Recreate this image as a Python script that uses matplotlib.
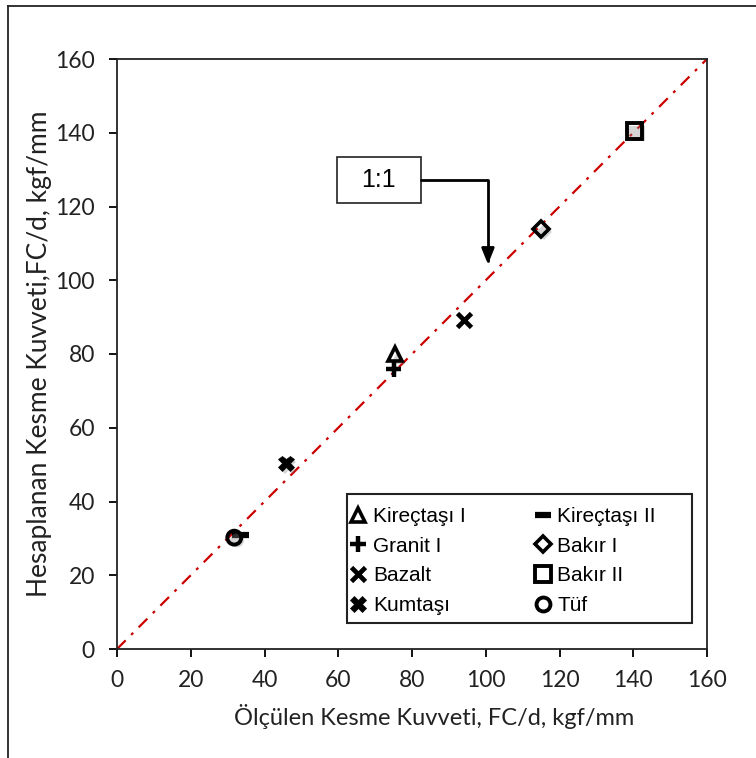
import matplotlib
matplotlib.use("Agg")
import matplotlib.pyplot as plt
import matplotlib.patheffects as pe
from matplotlib.lines import Line2D
from matplotlib.patches import Rectangle

# Measured vs calculated cutting force per unit depth (FC/d, kgf/mm)
materials = ['Kireçtaşı I', 'Granit I', 'Bazalt', 'Kumtaşı',
             'Kireçtaşı II', 'Bakır I', 'Bakır II', 'Tüf']
measured = [75.5, 75.0, 94.0, 45.8, 33.5, 115.0, 140.3, 31.8]
calculated = [80.0, 75.8, 89.2, 50.4, 30.8, 113.9, 140.5, 30.2]

ticks = [0, 20, 40, 60, 80, 100, 120, 140, 160]
x_label = 'Ölçülen Kesme Kuvveti, FC/d, kgf/mm'
y_label = 'Hesaplanan Kesme Kuvveti,FC/d, kgf/mm'
ratio_label = '1:1'

styles = {
    'Kireçtaşı I': dict(marker='^', ms=10, mfc='none', mew=2.6),
    'Granit I': dict(marker='+', ms=11, mew=3.2),
    'Bazalt': dict(marker='x', ms=10, mew=3.4),
    'Kumtaşı': dict(marker='X', ms=11, mew=0.5),
    'Kireçtaşı II': dict(marker='_', ms=12, mew=4.5),
    'Bakır I': dict(marker='D', ms=8, mfc='none', mew=2.6),
    'Bakır II': dict(marker='s', ms=11, mfc='none', mew=2.8),
    'Tüf': dict(marker='o', ms=10, mfc='none', mew=2.8),
}

axis_font = ['Lato', 'DejaVu Sans']
plt.rcParams['font.family'] = ['Liberation Sans', 'DejaVu Sans']
ink = '#222222'

fig = plt.figure(figsize=(7.56, 7.58), dpi=100)
ax = fig.add_axes([117 / 756, 1 - 649 / 758, 590 / 756, 590 / 758])

# Outer frame (left and top edges)
fig.add_artist(Line2D([8 / 756, 8 / 756], [0, 1 - 6 / 758], transform=fig.transFigure,
                      color=ink, lw=1.3))
fig.add_artist(Line2D([8 / 756, 1], [1 - 6 / 758, 1 - 6 / 758], transform=fig.transFigure,
                      color=ink, lw=1.3))

# 1:1 reference line
ax.plot([ticks[0], ticks[-1]], [ticks[0], ticks[-1]], color='#cc0000', lw=1.6,
        dashes=(5.5, 3.5, 1.3, 3.5), zorder=1)

shadow = [pe.SimplePatchShadow(offset=(2, -2), shadow_rgbFace='#888888', alpha=0.35),
          pe.Normal()]
handles = []
for name, xv, yv in zip(materials, measured, calculated):
    st = styles[name]
    ax.plot([xv], [yv], ls='none', color='black', mec='black', zorder=3,
            path_effects=shadow, **st)
    handles.append(Line2D([], [], ls='none', color='black', mec='black', label=name, **st))

ax.set_xlim(ticks[0], ticks[-1])
ax.set_ylim(ticks[0], ticks[-1])
ax.set_xticks(ticks)
ax.set_yticks(ticks)
ax.tick_params(direction='out', length=6, width=1.3, labelsize=16.5)
ax.tick_params(axis='x', pad=9)
ax.tick_params(axis='y', pad=10)
for lbl in ax.get_xticklabels() + ax.get_yticklabels():
    lbl.set_fontfamily(axis_font)
    lbl.set_color(ink)
for s in ax.spines.values():
    s.set_linewidth(1.3)
    s.set_color(ink)

ax.set_xlabel(x_label, fontsize=17, family=axis_font, color=ink)
ax.set_ylabel(y_label, fontsize=19, family=axis_font, color=ink)
ax.xaxis.set_label_coords(0.537, -0.093)
ax.yaxis.set_label_coords(-0.11, 0.5)

# 1:1 label box with elbow arrow pointing to the diagonal
ax.add_patch(Rectangle((59.7, 120.9), 22.7, 12.5, fc='white', ec=ink, lw=1.2, zorder=4))
ax.text(71.0, 127.2, ratio_label, ha='center', va='center', fontsize=18, zorder=5)
ax.annotate('', xy=(100.6, 104.3), xytext=(82.4, 127.2),
            arrowprops=dict(arrowstyle='-|>,head_length=0.95,head_width=0.38', color='black',
                            lw=2, shrinkA=0, shrinkB=0,
                            connectionstyle='angle,angleA=0,angleB=90,rad=0'),
            zorder=4)

# Legend box drawn separately so it can be wider than its entries
ax.add_patch(Rectangle((0.39, 0.044), 0.585, 0.219, transform=ax.transAxes,
                       fc='white', ec=ink, lw=1.5, zorder=4))
leg = ax.legend(handles=handles, ncol=2, loc='upper left',
                bbox_to_anchor=(0.395, 0.241), frameon=False,
                fontsize=15, borderpad=0, borderaxespad=0,
                labelspacing=0.52, handlelength=0.8, handletextpad=0.3,
                columnspacing=3.3)
leg.set_zorder(5)

fig.savefig('out.png', dpi=100)
